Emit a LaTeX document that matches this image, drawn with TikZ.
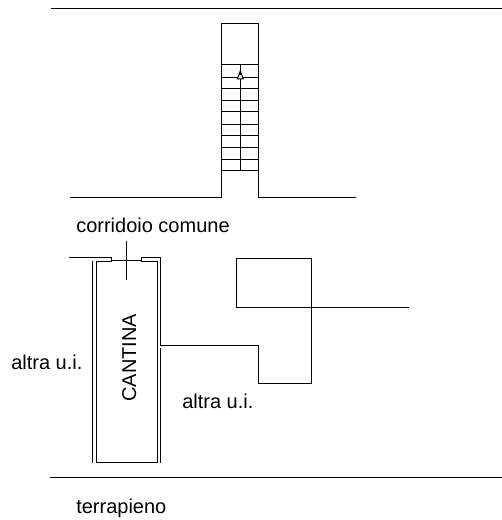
\documentclass[tikz,border=0pt]{standalone}
\usepackage{fontspec}
\setmainfont{Liberation Sans}
\tikzset{
  wall/.style={line width=0.75pt,line cap=rect},
  label/.style={anchor=base west,inner sep=0pt,font=\fontsize{15pt}{15pt}\selectfont}
}
\begin{document}
\begin{tikzpicture}[x=0.75pt,y=-0.75pt]
    \useasboundingbox (0,0) rectangle (502,520);
    % linee orizzontali
    \draw[wall] (51,9) -- (502,9);
    \draw[wall] (50,477) -- (502,477);
    % vano scala
    \draw[wall] (70,197.5) -- (221,197.5) -- (221,23.5) -- (258.3,23.5) -- (258.3,197.5) -- (355,197.5);
    \foreach \y in {65,77.3,89,100.3,112,124.3,136,147.3,159.3,170.7}
    \draw[wall] (221,\y) -- (258.3,\y);
    \draw[wall] (240.3,65) -- (240.3,170.7);
    % freccia
    \draw[line width=0.75pt,fill=white] (240.3,71) -- (243.3,79) -- (237.3,79) -- cycle;
    \fill (240.3,70) -- (241.3,75) -- (239.3,75) -- cycle;
    % cantina, muro esterno
    \draw[wall] (69,257.8) -- (111.8,257.8) -- (111.8,261.8) -- (96,261.8) -- (96,462) -- (157,462) -- (157,261.8) -- (141,261.8) -- (141,257.8) -- (160.2,257.8) -- (160.2,345);
    \draw[wall] (92.3,261.8) -- (92.3,462);
    \draw[wall] (160.2,348.3) -- (160.2,462);
    % porta
    \draw[wall] (111.8,260) -- (141,260);
    \draw[wall] (126.8,241) -- (126.8,279);
    % altra u.i.
    \draw[wall] (160.2,345) -- (258.3,345) -- (258.3,383.3) -- (311.7,383.3) -- (311.7,258.3) -- (236.3,258.3) -- (236.3,307) -- (408.7,307);
    % testi
    \node[label] (corridoio) at (76,232) {corridoio comune};
    \node[label] (altraleft) at (11,369) {altra u.i.};
    \node[label] (altraright) at (182,408) {altra u.i.};
    \node[label] (terrapieno) at (76,513) {terrapieno};
    \node[label,rotate=90] (cantina) at (136,402) {CANTINA};
\end{tikzpicture}
\end{document}
